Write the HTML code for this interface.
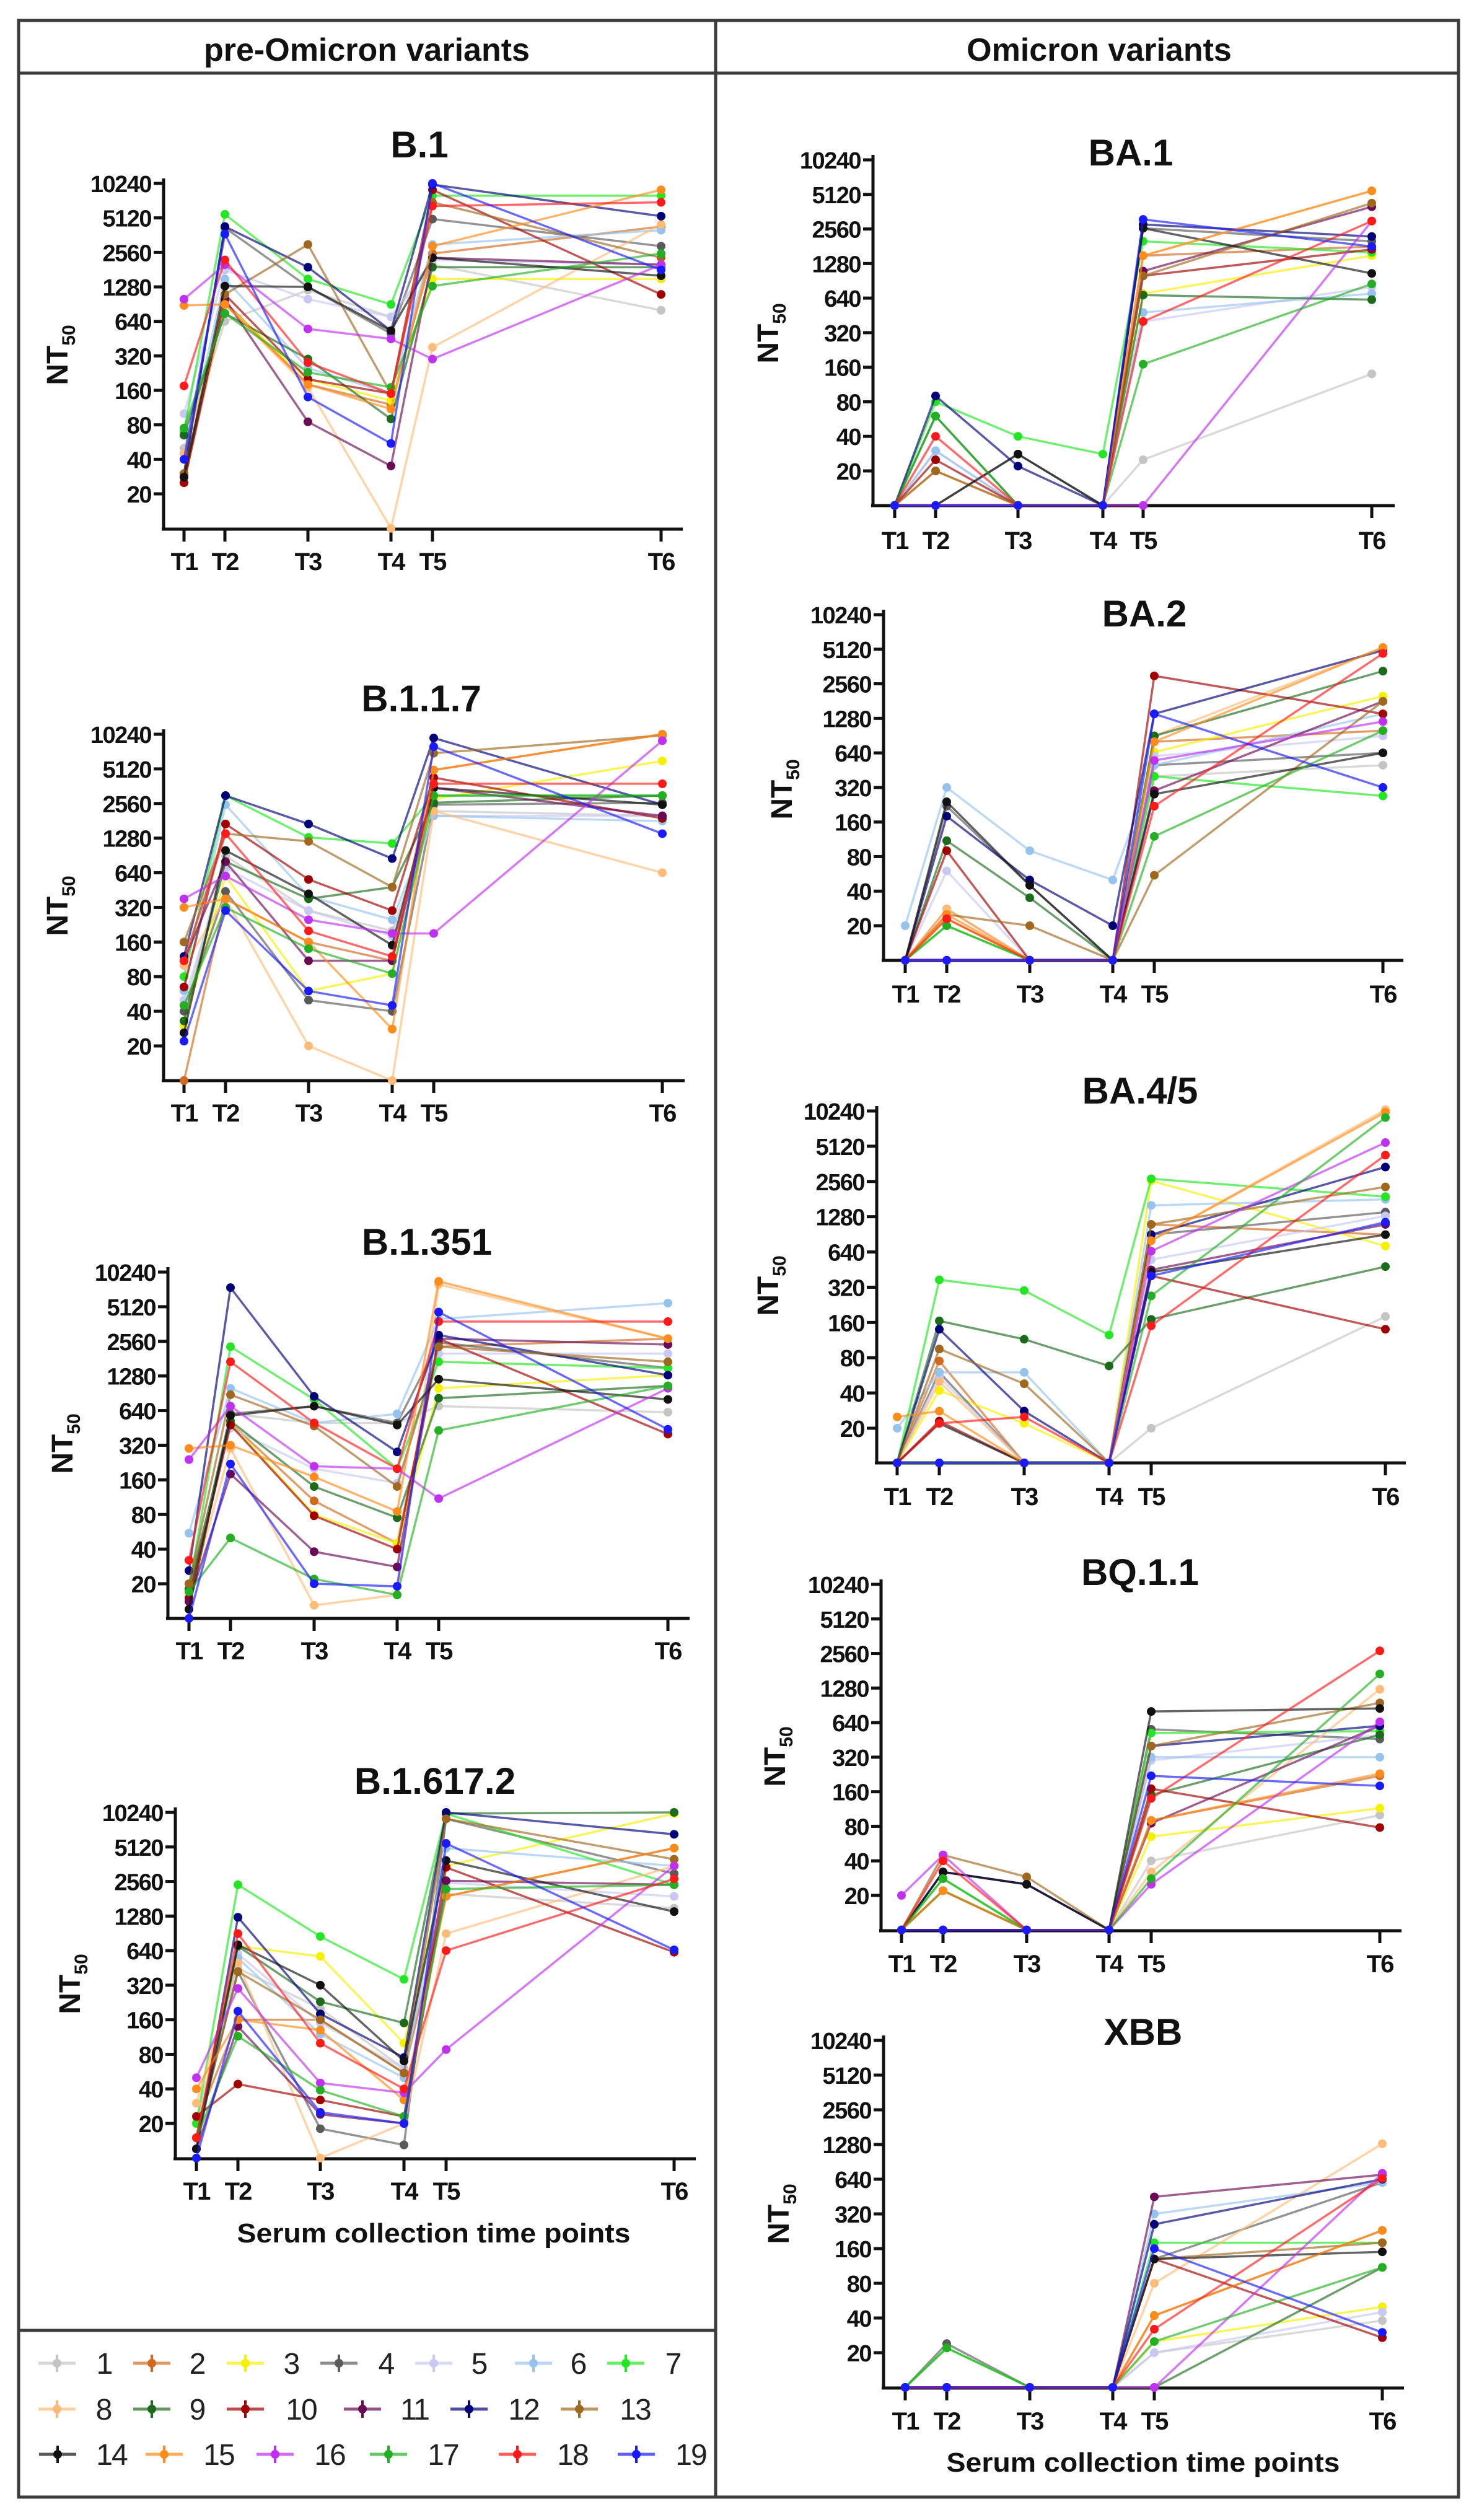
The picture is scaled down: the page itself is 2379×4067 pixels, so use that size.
<!DOCTYPE html>
<html><head><meta charset="utf-8"><title>NT50 across variants</title>
<style>
html,body{margin:0;padding:0;background:#fff;}
svg{display:block;font-family:"Liberation Sans",Arial,sans-serif;}
</style></head>
<body>
<svg id="chart" xmlns="http://www.w3.org/2000/svg" width="2379" height="4067" viewBox="0 0 2379 4067">
  <rect x="0" y="0" width="2379" height="4067" fill="#fff"/>
  <g stroke="#3c3c3c" stroke-width="5" fill="none">
    <rect x="30" y="33" width="2324" height="3997"/>
    <line x1="30" y1="118" x2="2354" y2="118"/>
    <line x1="1155" y1="33" x2="1155" y2="4030"/>
    <line x1="30" y1="3761" x2="1155" y2="3761"/>
  </g>
  <text x="592" y="98" text-anchor="middle" font-size="52" font-weight="bold" fill="#111">pre-Omicron variants</text>
  <text x="1774" y="98" text-anchor="middle" font-size="52" font-weight="bold" fill="#111">Omicron variants</text>
  <g id="panels"></g>
  <g id="legend"></g>
</svg>
<script>
const timeLabels = ["T1","T2","T3","T4","T5","T6"];
const tickValues = [20,40,80,160,320,640,1280,2560,5120,10240];
const tickLabels = ["20","40","80","160","320","640","1280","2560","5120","10240"];
const seriesNames = ["1","2","3","4","5","6","7","8","9","10","11","12","13","14","15","16","17","18","19"];
const seriesColors = ["#c4c4c4","#d2691e","#f5f000","#5a5a5a","#c8c8f2","#96c3ee","#22e622","#ffbb77","#1b6b1b","#a00000","#6a0a55","#00007a","#a0681e","#111111","#ff8c1a","#c030f0","#22b022","#ff1a1a","#1a1aff"];

const dataB1 = [
[50,640,1200,700,2000,800],[25,950,180,120,2500,4300],[30,900,200,130,1500,1500],[30,4200,1280,500,5000,2900],
[100,1800,1000,700,2200,2000],[40,1500,250,150,3000,4000],[70,5500,1500,900,8000,8000],[45,900,170,10,380,4500],
[65,750,300,90,1900,1900],[25,1100,200,150,9000,1100],[28,1000,85,35,2300,2000],[30,4300,1900,530,10000,5300],
[30,1100,3000,150,7000,2300],[28,1300,1280,530,2300,1600],[880,900,180,110,2900,9000],[1000,2000,550,450,300,2000],
[75,750,230,170,1300,2500],[175,2200,280,150,6500,7000],[40,3700,140,55,10240,1800]];
const dataB117 = [
[40,900,300,200,2200,2000],[10,380,160,110,5000,10240],[30,600,60,85,2800,6000],[40,440,50,40,2500,2600],
[50,700,300,180,2000,2000],[60,2500,400,250,2000,1800],[80,3000,1300,1150,3000,3000],[100,380,20,10,2200,640],
[33,800,380,480,2600,3000],[65,1700,560,300,4300,1900],[110,800,110,110,3500,2000],[120,3000,1700,850,9500,2500],
[160,1400,1200,480,7000,10000],[26,1000,420,150,3500,2500],[320,380,160,28,5000,10240],[380,600,250,190,190,9000],
[45,320,140,85,3000,3000],[110,1400,200,120,3800,3800],[22,300,60,45,8000,1400]];
const dataB1351 = [
[15,600,500,500,700,620],[15,500,105,45,2300,2700],[15,500,80,45,1000,1300],[15,600,700,500,2500,1500],
[20,450,200,150,2000,2000],[55,1000,500,600,4000,5500],[18,2300,800,200,1700,1500],[15,300,13,16,8000,2700],
[18,520,140,75,820,1050],[15,480,78,40,2700,400],[14,180,38,28,2700,2400],[26,7500,850,280,2900,1300],
[20,880,470,140,2300,1700],[12,580,700,480,1200,800],[300,320,170,85,8500,2700],[240,700,210,200,110,1000],
[17,50,22,16,430,1050],[32,1700,500,200,3800,3800],[10,220,20,19,4600,440]];
const dataB16172 = [
[15,450,200,60,2000,1500],[20,160,160,55,1900,5000],[20,700,570,100,3500,10000],[15,420,18,13,9000,3000],
[20,600,150,60,2500,1900],[15,550,120,50,5000,3500],[20,2400,850,360,10000,2400],[30,500,10,20,900,3500],
[15,700,230,150,10000,10240],[23,44,32,23,3400,620],[12,140,24,20,2600,2400],[12,1250,180,75,10240,6600],
[15,420,160,55,9000,4000],[12,720,320,70,3900,1400],[40,160,130,32,1900,5000],[50,300,45,37,88,3500],
[15,115,39,23,2200,2400],[15,900,100,40,640,2700],[10,190,25,20,5500,650]];
const dataBA1 = [
[10,10,10,10,25,140],[10,20,10,10,1500,1800],[10,10,10,10,700,1500],[10,10,28,10,2600,2000],
[10,30,10,10,400,800],[10,30,10,10,480,700],[10,80,40,28,2000,1600],[10,20,10,10,1500,5500],
[10,60,10,10,680,620],[10,25,10,10,1000,1700],[10,10,10,10,1100,4000],[10,90,22,10,2800,2200],
[10,20,10,10,1000,4300],[10,10,28,10,2600,1050],[10,10,10,10,1500,5500],[10,10,10,10,10,3000],
[10,60,10,10,170,850],[10,40,10,10,400,3000],[10,10,10,10,3100,1800]];
const dataBA2 = [
[10,10,10,10,400,500],[10,28,10,10,800,1000],[10,23,10,10,650,2000],[10,220,45,10,500,640],
[10,60,10,10,600,900],[20,320,90,50,500,1400],[10,20,10,10,400,270],[10,28,10,10,900,5300],
[10,110,35,10,900,3300],[10,90,10,10,3000,1400],[10,10,10,10,300,1800],[10,180,50,20,1400,5000],
[10,25,20,10,55,1800],[10,240,45,10,280,640],[10,25,10,10,800,5300],[10,10,10,10,550,1200],
[10,20,10,10,120,1000],[10,23,10,10,220,4700],[10,10,10,10,1400,320]];
const dataBA45 = [
[10,10,10,10,20,180],[10,75,10,10,1100,900],[10,42,22,10,2600,720],[10,60,10,10,900,1400],
[10,55,10,10,550,1300],[20,60,60,10,1600,1800],[10,370,300,125,2700,1900],[10,50,10,10,800,10500],
[10,165,115,68,170,480],[10,23,10,10,400,140],[10,10,10,10,450,1100],[10,140,28,10,900,3400],
[10,95,48,10,1100,2300],[10,22,10,10,430,900],[25,28,10,10,800,10000],[10,10,10,10,650,5500],
[10,10,10,10,270,9000],[10,22,25,10,150,4300],[10,10,10,10,400,1150]];
const dataBQ11 = [
[10,10,10,10,40,100],[10,22,10,10,90,220],[10,10,10,10,65,115],[10,32,25,10,560,460],
[10,10,10,10,300,500],[10,10,10,10,320,320],[10,28,10,10,520,540],[10,22,10,10,32,1250],
[10,22,10,10,150,500],[10,10,10,10,170,78],[10,10,10,10,85,600],[10,32,25,10,400,600],
[10,45,29,10,400,950],[10,32,25,10,800,850],[10,22,10,10,90,230],[20,45,10,10,25,650],
[10,28,10,10,28,1700],[10,40,10,10,140,2700],[10,10,10,10,220,180]];
const dataXBB = [
[10,10,10,10,20,38],[10,10,10,10,42,230],[10,10,10,10,25,50],[10,24,10,10,130,600],
[10,10,10,10,20,45],[10,10,10,10,320,600],[10,22,10,10,180,180],[10,10,10,10,80,1300],
[10,10,10,10,10,110],[10,10,10,10,130,27],[10,10,10,10,450,700],[10,10,10,10,260,640],
[10,10,10,10,130,180],[10,10,10,10,130,150],[10,10,10,10,42,230],[10,10,10,10,10,720],
[10,22,10,10,25,110],[10,10,10,10,32,650],[10,10,10,10,160,30]];

const NS = "http://www.w3.org/2000/svg";
function mk(tag, attrs, parent){const e=document.createElementNS(NS,tag);for(const k in attrs)e.setAttribute(k,attrs[k]);if(parent)parent.appendChild(e);return e;}

const panels = [
 {name:"B.1",data:dataB1,ax:264,top:296,y20:797,xa:854,end:1102,tx:[297,363,497,631,698,1067],title:[677,233],nt:[92,573],tl:906},
 {name:"B.1.1.7",data:dataB117,ax:264,top:1185,y20:1688,xa:1744,end:1105,tx:[297,364,498,633,700,1069],title:[680,1127],nt:[92,1462],tl:1796},
 {name:"B.1.351",data:dataB1351,ax:271,top:2053,y20:2556,xa:2612,end:1113,tx:[305,372,507,641,708,1078],title:[689,2004],nt:[100,2330],tl:2664},
 {name:"B.1.617.2",data:dataB16172,ax:283,top:2925,y20:3427,xa:3484,end:1123,tx:[317,384,517,652,720,1088],title:[702,2874],nt:[112,3202],tl:3536,xlabel:[700,3604]},
 {name:"BA.1",data:dataBA1,ax:1409,top:258,y20:760,xa:816,end:2251,tx:[1444,1510,1643,1780,1845,2214],title:[1825,246],nt:[1239,538],tl:872},
 {name:"BA.2",data:dataBA2,ax:1426,top:992,y20:1494,xa:1550,end:2265,tx:[1461,1528,1662,1796,1863,2232],title:[1847,990],nt:[1261,1274],tl:1604},
 {name:"BA.4/5",data:dataBA45,ax:1415,top:1793,y20:2305,xa:2361,end:2269,tx:[1448,1516,1653,1790,1858,2236],title:[1840,1760],nt:[1239,2075],tl:2415},
 {name:"BQ.1.1",data:dataBQ11,ax:1422,top:2557,y20:3059,xa:3116,end:2262,tx:[1455,1522,1657,1790,1858,2227],title:[1840,2537],nt:[1250,2835],tl:3169},
 {name:"XBB",data:dataXBB,ax:1426,top:3293,y20:3797,xa:3854,end:2266,tx:[1461,1528,1662,1796,1863,2231],title:[1845,3279],nt:[1256,3573],tl:3907,xlabel:[1845,3974]}
];

const root = document.getElementById("panels");
panels.forEach(p=>{
  const slug = p.name.toLowerCase().replace(/[^a-z0-9]+/g,"-");
  const g = mk("g",{},root);
  
  
  const d = (p.y20 - p.top)/9;
  const yScale = v => Math.min(p.xa, p.y20 - d*Math.log2(v/20));
  const xScale = i => p.tx[i];

  const t = mk("text",{x:p.title[0],y:p.title[1]+21,"text-anchor":"middle","font-size":60,"font-weight":"bold",fill:"#111"},g);
  t.textContent = p.name;
  
  

  const yl = mk("text",{transform:`translate(${p.nt[0]+17},${p.nt[1]}) rotate(-90)`,"text-anchor":"middle","font-size":48,"font-weight":"bold",fill:"#111"},g);
  
  
  const s1 = mk("tspan",{},yl); s1.textContent="NT";
  const s2 = mk("tspan",{"font-size":30,dy:12}); yl.appendChild(s2); s2.textContent="50";

  const axes = mk("g",{stroke:"#111","stroke-width":5,fill:"none"},g);
  
  
  mk("line",{x1:p.ax,y1:p.top-8,x2:p.ax,y2:p.xa},axes);
  mk("line",{x1:p.ax-3,y1:p.xa,x2:p.end,y2:p.xa},axes);

  tickValues.forEach((v,i)=>{
    const y = yScale(v);
    const tk = mk("line",{x1:p.ax-16,y1:y,x2:p.ax,y2:y,stroke:"#111","stroke-width":5},g);
    
    
    const tl = mk("text",{x:p.ax-20,y:y+14,"text-anchor":"end","font-size":38,"font-weight":"bold",fill:"#111","letter-spacing":"-1.5"},g);
    tl.textContent = tickLabels[i];
    
    
  });
  timeLabels.forEach((lab,i)=>{
    const x = xScale(i);
    const tk = mk("line",{x1:x,y1:p.xa,x2:x,y2:p.xa+20,stroke:"#111","stroke-width":5},g);
    
    
    const tl = mk("text",{x:x,y:p.tl+14,"text-anchor":"middle","font-size":40,"font-weight":"bold",fill:"#111","letter-spacing":"-2"},g);
    tl.textContent = lab;
    
    
  });
  if(p.xlabel){
    const xl = mk("text",{x:p.xlabel[0],y:p.xlabel[1]+15,"text-anchor":"middle","font-size":44,"font-weight":"bold",fill:"#111",textLength:635,lengthAdjust:"spacingAndGlyphs"},g);
    xl.textContent = "Serum collection time points";
    
    
  }
  p.data.forEach((vals,si)=>{
    const sg = mk("g",{},g);
    
    
    const pts = vals.map((v,i)=>xScale(i)+","+yScale(v)).join(" ");
    const pl = mk("polyline",{points:pts,fill:"none",stroke:seriesColors[si],"stroke-width":3.5,"stroke-opacity":0.65},sg);
    
    
    vals.forEach((v,i)=>{
      const c = mk("circle",{cx:xScale(i),cy:yScale(v),r:7,fill:seriesColors[si]},sg);
      
      
    });
  });
});

const legendPos = [
 [92,168,3814],[245,318,3814],[396,470,3814],[547,623,3814],[700,773,3814],[861,933,3814],[1010,1086,3814],
 [92,167,3888],[245,318,3888],[396,486,3888],[585,669,3888],[757,845,3888],[935,1025,3888],
 [93,180,3961],[265,353,3961],[444,532,3961],[627,715,3961],[835,924,3961],[1027,1115,3961]];
const lg = document.getElementById("legend");
seriesNames.forEach((n,i)=>{
  const [mx,lx,y] = legendPos[i];
  const e = mk("g",{},lg);
  
  
  mk("line",{x1:mx-30,y1:y,x2:mx+30,y2:y,stroke:seriesColors[i],"stroke-width":5,"stroke-opacity":0.7},e);
  mk("line",{x1:mx,y1:y-14,x2:mx,y2:y+14,stroke:seriesColors[i],"stroke-width":4},e);
  mk("circle",{cx:mx,cy:y,r:7,fill:seriesColors[i]},e);
  const t = mk("text",{x:lx,y:y+17,"text-anchor":"middle","font-size":48,fill:"#222","letter-spacing":"-2"},e);
  t.textContent = n;
});
</script>
</body></html>
